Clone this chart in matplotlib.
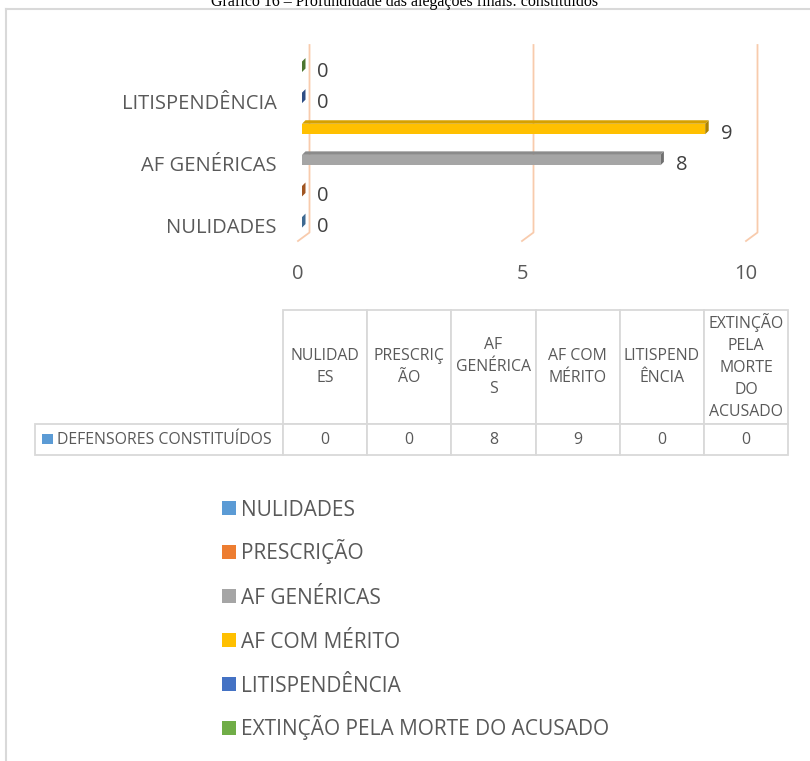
import matplotlib
matplotlib.use('Agg')
import matplotlib.pyplot as plt
from matplotlib.patches import Rectangle
from matplotlib.lines import Line2D
from matplotlib.colors import to_rgb
from matplotlib.table import Table
from matplotlib.transforms import ScaledTranslation
import numpy as np

plt.rcParams['font.family'] = ['Open Sans', 'DejaVu Sans']

# chart data
title = 'Gráfico 16 – Profundidade das alegações finais: constituídos'
series_name = 'DEFENSORES CONSTITUÍDOS'
categories = ['NULIDADES', 'PRESCRIÇÃO', 'AF GENÉRICAS', 'AF COM MÉRITO',
              'LITISPENDÊNCIA', 'EXTINÇÃO PELA MORTE DO ACUSADO']
values = [0, 0, 8, 9, 0, 0]
bar_colors = ['#5B9BD5', '#ED7D31', '#A5A5A5', '#FFC000', '#4472C4', '#70AD47']
shown_labels = [0, 2, 4]   # only every other category name fits on the axis
x_ticks = [0, 5, 10]
table_headers = ['NULIDAD\nES', 'PRESCRIÇ\nÃO', 'AF\nGENÉRICA\nS', 'AF COM\nMÉRITO',
                 'LITISPEND\nÊNCIA', 'EXTINÇÃO\nPELA\nMORTE\nDO\nACUSADO']

W, H = 810, 761
TXT = '#595959'
GRID = '#F8CBAD'
EDGE = '#D9D9D9'


def fx(px):
    return px / W


def fy(py):
    return 1 - py / H


fig = plt.figure(figsize=(W / 100, H / 100), dpi=100)

# outer frame (only left and top edges are visible in the crop)
fig.add_artist(Line2D([fx(6), fx(6)], [0, fy(9)], transform=fig.transFigure, color=EDGE, lw=1.5))
fig.add_artist(Line2D([fx(6), 1], [fy(9), fy(9)], transform=fig.transFigure, color=EDGE, lw=1.5))

fig.text(0.5, fy(6.5), title, ha='center', va='baseline', fontsize=11.5,
         family='Liberation Serif', color='black')

# main bar axes, x in data units, front floor edge at the bottom
ax_l, ax_r, ax_b, ax_t = 298, 746, 241, 45
ylo, yhi = -0.6, 5.7
ax = fig.add_axes([fx(ax_l), fy(ax_b), (ax_r - ax_l) / W, (ax_b - ax_t) / H])
ax.set_xlim(0, 10)
ax.set_ylim(ylo, yhi)
ppu_x = (ax_r - ax_l) / 10
ppu_y = (ax_b - ax_t) / (yhi - ylo)

# 3d-ish gridlines: back wall line plus floor diagonal
back_dx, back_dy = 11.5 / ppu_x, 8.5 / ppu_y
for t in x_ticks:
    ax.plot([t, t + back_dx, t + back_dx], [ylo, ylo + back_dy, yhi],
            color=GRID, lw=1.3, clip_on=False, zorder=0)

ypos = np.arange(len(categories))
bar_off = 4 / ppu_x
bar_h = 10.5 / ppu_y
dx, dy = 3.5 / ppu_x, 3.5 / ppu_y

ax.barh(ypos, values, left=bar_off, height=bar_h, color=bar_colors, lw=0, zorder=2)
for yi, v, c in zip(ypos, values, bar_colors):
    base = np.array(to_rgb(c))
    x0, x1 = bar_off, bar_off + v
    y0, y1 = yi - bar_h / 2, yi + bar_h / 2
    ax.fill([x0, x1, x1 + dx, x0 + dx], [y1, y1, y1 + dy, y1 + dy],
            color=base * 0.84, lw=0, zorder=2)
    ax.fill([x1, x1 + dx, x1 + dx, x1], [y0, y0 + dy, y1 + dy, y1],
            color=base * 0.68, lw=0, zorder=2)
    ax.annotate(str(v), (x1 + dx, yi), xytext=(8.5, -1.8), textcoords='offset points',
                ha='left', va='center_baseline', fontsize=14.5, color='#404040')

ax.set_yticks(shown_labels, [categories[i] for i in shown_labels])
ax.set_xticks(x_ticks)
ax.tick_params(axis='y', length=0, pad=15.5, labelsize=14.5, labelcolor=TXT)
ax.tick_params(axis='x', length=0, pad=16.5, labelsize=14.5, labelcolor=TXT)
down = ScaledTranslation(0, -3.5 / 100, fig.dpi_scale_trans)
for lbl in ax.get_yticklabels():
    lbl.set_transform(lbl.get_transform() + down)
for s in ax.spines.values():
    s.set_visible(False)

# data table
tb_l, tb_r, tb_t, tb_b = 35, 788, 310, 455
label_w, col_w = 248, (tb_r - tb_l - 248) / 6
head_h, row_h = 114, 31
tax = fig.add_axes([fx(tb_l), fy(tb_b), (tb_r - tb_l) / W, (tb_b - tb_t) / H])
tax.axis('off')
tbl = Table(tax, bbox=[0, 0, 1, 1])
for j, (hd, v) in enumerate(zip(table_headers, values)):
    tbl.add_cell(0, j + 1, width=col_w, height=head_h, text=hd, loc='center')
    tbl.add_cell(1, j + 1, width=col_w, height=row_h, text=str(v), loc='center')
lab = tbl.add_cell(1, 0, width=label_w, height=row_h, text=series_name, loc='left')
lab.PAD = 22 / label_w
tbl.auto_set_font_size(False)
tbl.set_fontsize(11.4)
for cell in tbl.get_celld().values():
    cell.set_edgecolor(EDGE)
    cell.set_linewidth(1.3)
    cell.get_text().set_color(TXT)
    cell.get_text().set_linespacing(1.5)
tax.add_table(tbl)

# legend key inside the row label cell
fig.add_artist(Rectangle((fx(42), fy(444)), 11 / W, 10 / H, transform=fig.transFigure,
                         color=bar_colors[0], lw=0))

# legend: one row per category, fixed row pitch
leg_x, leg_y0, leg_step = 222, 508, 44
for i, (c, n) in enumerate(zip(bar_colors, categories)):
    yc = leg_y0 + i * leg_step
    fig.add_artist(Rectangle((fx(leg_x), fy(yc + 7)), 14 / W, 14 / H,
                             transform=fig.transFigure, color=c, lw=0))
    fig.text(fx(leg_x + 19), fy(yc + 7.5), n, ha='left', va='baseline',
             fontsize=15, color=TXT)

fig.savefig('out.png', dpi=100)
